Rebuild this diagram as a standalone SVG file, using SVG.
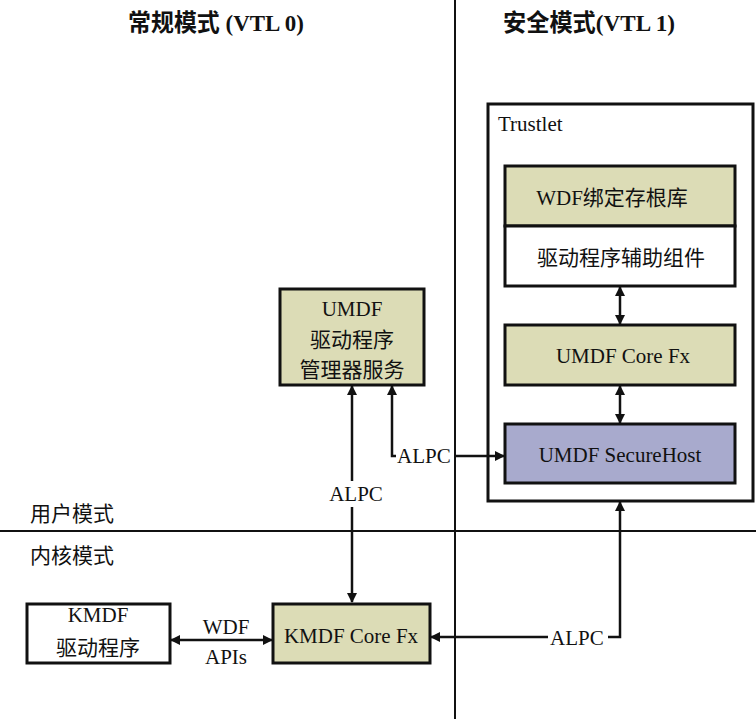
<svg xmlns="http://www.w3.org/2000/svg" width="756" height="719" viewBox="0 0 756 719">
<style>
text{font-family:"Liberation Serif","Noto Sans CJK SC",serif;font-size:21px;fill:#111;}
.c{text-anchor:middle;}
.t{font-weight:bold;font-size:24px;}
.box{stroke:#111;stroke-width:3;}
.g{fill:#dcdcb6;}
.b{fill:#a8aacd;}
.w{fill:#fff;}
.ln{stroke:#111;stroke-width:2.5;fill:none;}
.dv{stroke:#111;stroke-width:2;}
</style>
<defs>
<marker id="ah" markerWidth="10" markerHeight="10" refX="9" refY="5" orient="auto-start-reverse" markerUnits="userSpaceOnUse">
<path d="M0,0 L10,5 L0,10 Z" fill="#111"/>
</marker>
</defs>
<rect width="756" height="719" fill="#fff"/>
<g id="dividers">
<line class="dv" x1="455" y1="0" x2="455" y2="719"/>
<line class="dv" x1="0" y1="531" x2="756" y2="531"/>
</g>
<g id="labels">
<text class="t" x="128" y="31" textLength="176" lengthAdjust="spacingAndGlyphs">常规模式 (VTL 0)</text>
<text class="t" x="503" y="31" textLength="172" lengthAdjust="spacingAndGlyphs">安全模式(VTL 1)</text>
<text x="30" y="521">用户模式</text>
<text x="30" y="563">内核模式</text>
</g>
<g id="trustlet">
<rect class="box w" x="488" y="104" width="265" height="397" stroke-width="2"/>
<text x="498" y="131" font-size="20">Trustlet</text>
</g>
<g id="wdf-stub">
<rect class="box g" x="505" y="166" width="230" height="60"/>
<text class="c" x="612" y="205" font-size="22">WDF绑定存根库</text>
</g>
<g id="driver-helper">
<rect class="box w" x="505" y="226" width="230" height="60"/>
<text class="c" x="621" y="265" font-size="22">驱动程序辅助组件</text>
</g>
<g id="umdf-core">
<rect class="box g" x="505" y="325" width="230" height="60"/>
<text class="c" x="623" y="363" font-size="22">UMDF Core Fx</text>
</g>
<g id="securehost">
<rect class="box b" x="505" y="424" width="230" height="59"/>
<text class="c" x="620" y="462" font-size="22">UMDF SecureHost</text>
</g>
<g id="umdf-service">
<rect class="box g" x="280" y="289" width="144" height="96"/>
<text class="c" x="352" y="316">UMDF</text>
<text class="c" x="352" y="347">驱动程序</text>
<text class="c" x="352" y="377">管理器服务</text>
</g>
<g id="kmdf-driver">
<rect class="box w" x="27" y="604" width="143" height="59"/>
<text class="c" x="98" y="622">KMDF</text>
<text class="c" x="98" y="655">驱动程序</text>
</g>
<g id="kmdf-core">
<rect class="box g" x="273" y="604" width="157" height="59"/>
<text class="c" x="351" y="643">KMDF Core Fx</text>
</g>
<g id="connectors">
<line class="ln" x1="620" y1="287" x2="620" y2="324" marker-start="url(#ah)" marker-end="url(#ah)"/>
<line class="ln" x1="620" y1="386" x2="620" y2="423" marker-start="url(#ah)" marker-end="url(#ah)"/>
<line class="ln" x1="352" y1="386" x2="352" y2="481" marker-start="url(#ah)"/>
<line class="ln" x1="352" y1="507" x2="352" y2="602" marker-end="url(#ah)"/>
<text class="c" x="356" y="501">ALPC</text>
<polyline class="ln" points="392,386 392,456 396,456" marker-start="url(#ah)"/>
<text x="397" y="463">ALPC</text>
<line class="ln" x1="454" y1="456" x2="504" y2="456" marker-end="url(#ah)"/>
<line class="ln" x1="171" y1="640" x2="272" y2="640" marker-start="url(#ah)" marker-end="url(#ah)"/>
<text class="c" x="226" y="634">WDF</text>
<text class="c" x="226" y="664">APIs</text>
<polyline class="ln" points="620,502 620,637 608,637" marker-start="url(#ah)"/>
<text x="550" y="645">ALPC</text>
<line class="ln" x1="548" y1="637" x2="431" y2="637" marker-end="url(#ah)"/>
</g>
</svg>
